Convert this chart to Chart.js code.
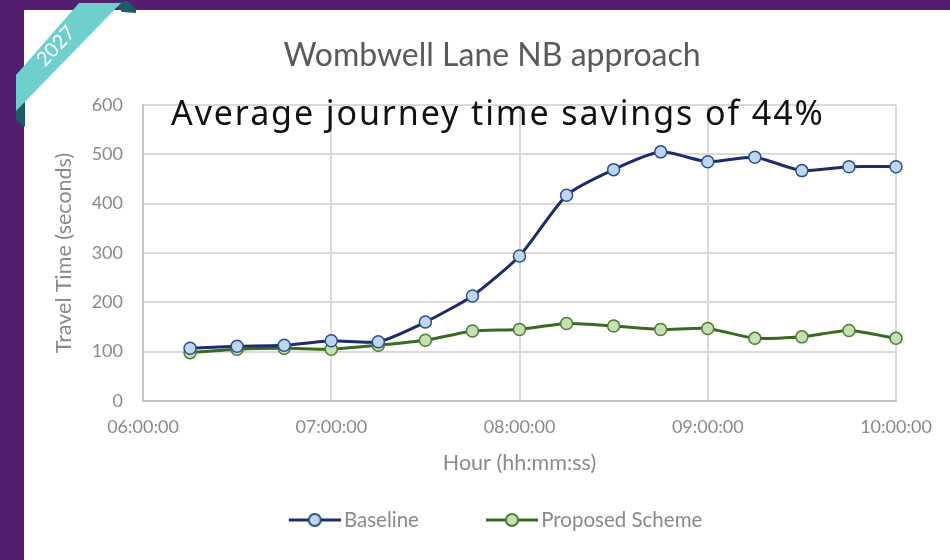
<!doctype html>
<html lang="en">
  <head>
    <meta charset="utf-8" />
    <title>Wombwell Lane NB approach</title>
    <style>
      html, body { margin: 0; padding: 0; }
      body {
        width: 950px;
        height: 560px;
        background: #521e6d;
        position: relative;
        overflow: hidden;
      }
      .panel {
        position: absolute;
        left: 24px;
        top: 10px;
        width: 926px;
        height: 550px;
        background: #ffffff;
      }
      .headline {
        position: absolute;
        left: 171px;
        top: 92px;
        font-family: "Noto Sans", sans-serif;
        font-size: 34px;
        letter-spacing: 1.9px;
        line-height: 40px;
        color: #111111;
        white-space: nowrap;
      }
      .ribbon {
        position: absolute;
        left: 0;
        top: 0;
      }
    </style>
  </head>
  <body>
    <div class="panel">
      <canvas id="myChart" width="926" height="550"></canvas>
    </div>
    <svg class="ribbon" width="140" height="130" viewBox="0 0 140 130">
      <polygon points="114,3 127,1 136,9 136,13 122,12" fill="#1d5c66" />
      <polygon points="16,103 25,96 25,127 16,120" fill="#1d5c66" />
      <polygon points="79,3 121,3 16,111 16,75" fill="#6fcfcd" />
      <text x="57" y="47" fill="#ffffff" font-family="Lato, sans-serif" font-size="20"
        text-anchor="middle" dominant-baseline="middle" transform="rotate(-47 57 47)">2027</text>
    </svg>
    <div class="headline">Average journey time savings of 44%</div>

    <script src="https://cdn.jsdelivr.net/npm/chart.js/dist/chart.umd.min.js"></script>
    <script>
      const times = [
        "06:15:00", "06:30:00", "06:45:00", "07:00:00",
        "07:15:00", "07:30:00", "07:45:00", "08:00:00",
        "08:15:00", "08:30:00", "08:45:00", "09:00:00",
        "09:15:00", "09:30:00", "09:45:00", "10:00:00",
      ];
      const baseline = [107, 111, 113, 122, 120, 160, 213, 294, 417, 469, 505, 485, 494, 467, 475, 475];
      const proposed = [98, 105, 107, 105, 113, 123, 142, 145, 157, 152, 145, 147, 127, 130, 143, 127];
      const hourTicks = ["06:00:00", "07:00:00", "08:00:00", "09:00:00", "10:00:00"];

      // "hh:mm:ss" -> hours as a number for the linear x axis
      function toHours(t) {
        const p = t.split(":").map(Number);
        return p[0] + p[1] / 60 + p[2] / 3600;
      }

      // line + marker swatch for the legend (left 14px left empty on purpose)
      function legendImage(line, fill, border) {
        const c = document.createElement("canvas");
        c.width = 66;
        c.height = 16;
        const g = c.getContext("2d");
        g.strokeStyle = line;
        g.lineWidth = 3;
        g.beginPath();
        g.moveTo(14, 8);
        g.lineTo(66, 8);
        g.stroke();
        g.beginPath();
        g.arc(40, 8, 6, 0, Math.PI * 2);
        g.fillStyle = fill;
        g.fill();
        g.lineWidth = 2;
        g.strokeStyle = border;
        g.stroke();
        return c;
      }

      const series = [
        { label: "Baseline", values: baseline, line: "#1b2d6b", fill: "#bdd7ee", border: "#2e4d8f" },
        { label: "Proposed Scheme", values: proposed, line: "#3a6a22", fill: "#c6e0b4", border: "#4d7c32" },
      ];

      const data = {
        datasets: series.map((s) => ({
          label: s.label,
          data: times.map((t, i) => ({ x: toHours(t), y: s.values[i] })),
          borderColor: s.line,
          borderWidth: 3,
          pointRadius: 6,
          pointHoverRadius: 6,
          pointBackgroundColor: s.fill,
          pointBorderColor: s.border,
          pointBorderWidth: 1.5,
          pointStyle: "circle",
          tension: 0.2,
          clip: false,
          legendImg: legendImage(s.line, s.fill, s.border),
        })),
      };

      const tickColor = "#8a8a8a";
      const gridColor = "#dadada";

      const config = {
        type: "line",
        data,
        options: {
          responsive: false,
          animation: false,
          layout: { padding: { left: 64, right: 54, top: 0, bottom: 19.75 } },
          scales: {
            x: {
              type: "linear",
              min: 6,
              max: 10,
              afterFit(scale) {
                scale.height = 48.75;
              },
              ticks: {
                stepSize: 1,
                padding: 15,
                color: tickColor,
                font: { family: "Lato", size: 18 },
                maxRotation: 0,
                callback: (v, i) => hourTicks[i],
              },
              grid: { color: gridColor, lineWidth: 2, drawTicks: false },
              border: { color: "#c4c4c4", width: 2 },
              title: {
                display: true,
                text: "Hour (hh:mm:ss)",
                color: tickColor,
                font: { family: "Lato", size: 21.5 },
                padding: { top: 0, bottom: -26.15 },
              },
            },
            y: {
              min: 0,
              max: 600,
              afterFit(scale) {
                scale.width = 55;
              },
              ticks: {
                stepSize: 100,
                padding: 20,
                color: tickColor,
                font: { family: "Lato", size: 18 },
              },
              grid: { color: gridColor, lineWidth: 2, drawTicks: false },
              border: { color: "#c4c4c4", width: 2 },
              title: {
                display: true,
                text: "Travel Time (seconds)",
                color: tickColor,
                font: { family: "Lato", size: 21.5 },
                padding: { top: -36.9, bottom: 0 },
              },
            },
          },
          plugins: {
            title: {
              display: true,
              text: "Wombwell Lane NB approach",
              color: "#5a5a5a",
              font: { family: "Lato", size: 32, weight: "normal" },
              padding: { top: 26, bottom: 30.6 },
            },
            legend: {
              position: "bottom",
              labels: {
                usePointStyle: true,
                pointStyleWidth: 52,
                padding: 60,
                color: tickColor,
                font: { family: "Lato", size: 20.5 },
                generateLabels(chart) {
                  return chart.data.datasets.map((ds, i) => ({
                    text: ds.label,
                    pointStyle: ds.legendImg,
                    fontColor: tickColor,
                    datasetIndex: i,
                    hidden: false,
                    lineWidth: 0,
                  }));
                },
              },
            },
            tooltip: { enabled: false },
          },
        },
      };

      const myChart = new Chart(document.getElementById("myChart"), config);
    </script>
  </body>
</html>
